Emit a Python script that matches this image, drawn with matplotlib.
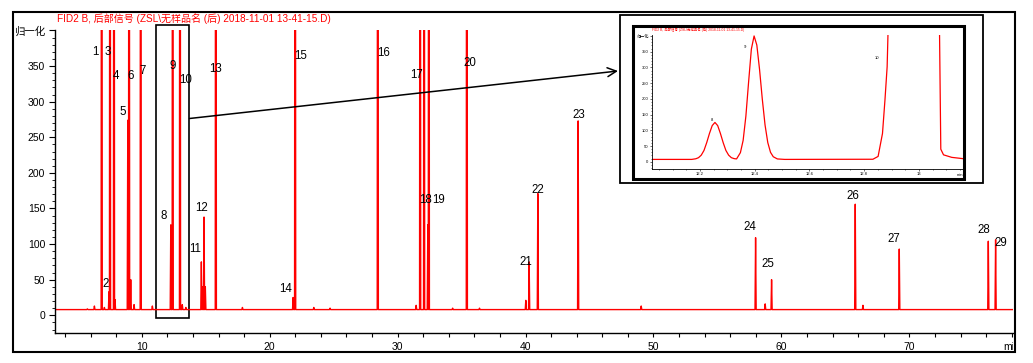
import matplotlib
matplotlib.use('Agg')
import matplotlib.pyplot as plt
import numpy as np
from matplotlib.patches import Rectangle, FancyArrowPatch
from matplotlib.transforms import Bbox, TransformedBbox

plt.rcParams['font.family'] = ['Liberation Sans', 'Noto Sans CJK SC', 'DejaVu Sans']

title = 'FID2 B, 后部信号 (ZSL\\无样品名 (后) 2018-11-01 13-41-15.D)'
ylabel = '归一化'

# retention time (min) and apex signal, 1500 = off scale
peak_times = [5.75, 6.30, 6.87, 7.08, 7.44, 7.52, 7.83, 7.91, 8.91, 9.01, 9.14, 9.40,
              9.92, 10.83, 12.27, 12.42, 12.99, 13.17, 13.45, 14.66, 14.77, 14.87,
              14.97, 15.79, 17.87, 21.83, 21.99, 23.45, 24.72, 28.45, 31.45, 31.76,
              32.07, 32.36, 32.44, 34.30, 35.41, 36.40, 40.02, 40.28, 40.96, 44.11,
              49.04, 57.98, 58.73, 59.23, 65.77, 66.37, 69.21, 76.17, 76.74]
peak_heights = [9, 13, 1500, 11, 33, 1500, 1500, 22, 274, 1500, 50, 15,
                1500, 13, 127, 1500, 1500, 15, 11, 75, 40, 138,
                40, 1500, 11, 25, 1500, 11, 10, 1500, 14, 1500,
                1500, 127, 1500, 10, 1500, 10, 21, 75, 171, 273,
                13, 109, 16, 50, 156, 14, 93, 104, 106]
baseline = 8.0

label_names = [str(i) for i in range(1, 30)]
label_times = [6.35, 7.19, 7.37, 7.99, 8.54, 9.16, 10.10, 11.74, 12.45, 13.46,
               14.17, 14.71, 15.80, 21.28, 22.38, 28.87, 31.45, 32.15, 33.17, 35.67,
               40.02, 40.98, 44.19, 57.51, 58.91, 65.59, 68.76, 75.80, 77.11]
label_values = [370, 44, 370, 336, 285, 336, 343, 139, 350, 330,
                93, 151, 346, 37, 364, 368, 338, 162, 162, 354,
                75, 176, 281, 124, 72, 167, 107, 120, 102]

# zoomed view of peaks 8-10
inset_times = [12.024, 12.17, 12.185, 12.195, 12.205, 12.215, 12.225, 12.235, 12.245,
               12.255, 12.265, 12.275, 12.285, 12.295, 12.305, 12.315, 12.325, 12.334,
               12.348, 12.358, 12.368, 12.378, 12.388, 12.398, 12.408, 12.418, 12.428,
               12.438, 12.448, 12.458, 12.468, 12.483, 12.51, 12.832, 12.851, 12.867,
               12.876, 12.884, 12.887, 12.90, 13.06, 13.073, 13.08, 13.09, 13.12, 13.16]
inset_values = [7.5, 7.5, 9.5, 13, 21, 36, 61, 90, 115,
                125, 115, 90, 61, 36, 21, 13, 10, 9,
                29, 68, 145, 254, 358, 400, 371, 293, 199,
                117, 61, 30, 16, 9, 7.5, 8, 17, 90,
                196, 302, 403, 600, 600, 600, 40, 22, 14, 10]
inset_label_names = ['8', '9', '10']
inset_label_times = [12.243, 12.364, 12.846]
inset_label_values = [133, 365, 329]

W, H = 1033, 363


def fx(px):
    return px / W


def fy(py):
    return 1 - py / H


fig = plt.figure(figsize=(W / 100, H / 100), dpi=100)

# chromatogram trace
half = 0.045
tr_t = [3.22]
tr_v = [baseline]
for t, h in sorted(zip(peak_times, peak_heights)):
    tr_t += [t - half, t, t + half]
    tr_v += [baseline, h, baseline]
tr_t.append(78.1)
tr_v.append(baseline)

ax = fig.add_axes([fx(55), fy(333.3), fx(1013 - 55), (333.3 - 30) / H])
ax.plot(tr_t, tr_v, color='red', lw=1.0)
ax.set_xlim(3.22, 78.1)
ax.set_ylim(-25.3, 400.7)
for s in ['top', 'right']:
    ax.spines[s].set_visible(False)
for s in ['left', 'bottom']:
    ax.spines[s].set_linewidth(1.0)
ax.set_xticks(np.arange(10, 71, 10))
ax.set_xticks(np.arange(4, 79, 2), minor=True)
ax.set_yticks(np.arange(0, 401, 50))
ax.set_yticklabels([str(v) for v in range(0, 351, 50)] + [ylabel])
ax.set_yticks(np.arange(-20, 401, 10), minor=True)
ax.tick_params(axis='x', which='both', direction='out', length=3, width=0.8,
               labelsize=7.5, pad=3)
ax.tick_params(axis='y', which='major', direction='out', length=4, width=0.8,
               labelsize=7.5, pad=3)
ax.tick_params(axis='y', which='minor', direction='out', length=2, width=0.6)

for name, t, v in zip(label_names, label_times, label_values):
    ax.text(t, v, name, ha='center', va='center', fontsize=8.3)

# zoom box and arrow
ax.add_patch(Rectangle((11.12, -3.8), 13.72 - 11.12, 407.7 + 3.8, fill=False,
                       ec='black', lw=1.2, clip_on=False))
fig.add_artist(FancyArrowPatch(posA=(fx(189.5), fy(118.5)), posB=(fx(618), fy(71)),
                               transform=fig.transFigure, arrowstyle='->',
                               mutation_scale=16, lw=1.1, color='black',
                               shrinkA=0, shrinkB=0))

fig.text(fx(193.5), fy(19), title, ha='center', va='center', color='red', fontsize=7.2)
mt = fig.text(fx(1003), fy(346.7), 'min', ha='left', va='center', fontsize=7.5)
mt.set_clip_box(TransformedBbox(Bbox([[0, 0], [fx(1013), 1]]), fig.transFigure))
mt.set_clip_on(True)

# outer frame
fig.add_artist(Rectangle((fx(12.7), fy(352)), fx(1015 - 12.7), (352 - 11.7) / H,
                         transform=fig.transFigure, fill=False, lw=1.5, ec='black'))

# inset picture
fig.add_artist(Rectangle((fx(620), fy(183.3)), fx(983.3 - 620), (183.3 - 15) / H,
                         transform=fig.transFigure, fill=False, lw=1.3, ec='black'))
ax2 = fig.add_axes([fx(651.7), fy(169), fx(962.7 - 651.7), (169 - 35) / H])
ax2.set_zorder(3)
ax2.plot(inset_times, inset_values, color='red', lw=0.9)
ax2.set_xlim(12.024, 13.16)
ax2.set_ylim(-23, 403)
for s in ['top', 'right']:
    ax2.spines[s].set_visible(False)
for s in ['left', 'bottom']:
    ax2.spines[s].set_linewidth(0.6)
ax2.set_xticks([12.2, 12.4, 12.6, 12.8, 13.0])
ax2.set_xticklabels(['12.2', '12.4', '12.6', '12.8', '13'])
ax2.set_xticks(np.arange(12.05, 13.16, 0.05), minor=True)
ax2.set_yticks(np.arange(0, 401, 50))
ax2.set_yticklabels([str(v) for v in range(0, 351, 50)] + [ylabel])
ax2.set_yticks(np.arange(-20, 401, 10), minor=True)
ax2.tick_params(which='both', direction='out', length=1.3, width=0.4, labelsize=3, pad=1)
ax2.tick_params(which='minor', length=0.8)
for name, t, v in zip(inset_label_names, inset_label_times, inset_label_values):
    ax2.text(t, v, name, ha='center', va='center', fontsize=3)
fig.text(fx(652), fy(30), title, ha='left', va='center', color='red', fontsize=2.4,
         zorder=4)
fig.text(fx(957), fy(175), 'min', ha='left', va='center', fontsize=3, zorder=4)
fig.add_artist(Rectangle((fx(632.7), fy(179.3)), fx(964.3 - 632.7), (179.3 - 26) / H,
                         transform=fig.transFigure, fill=False, lw=2.2, ec='black',
                         zorder=4))

fig.savefig('out.png', dpi=100)
